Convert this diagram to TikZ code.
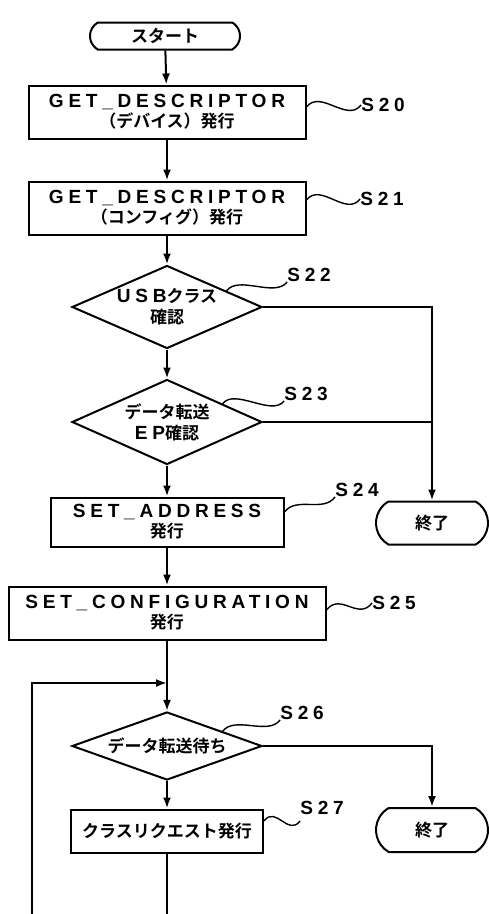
\documentclass[tikz,border=0pt]{standalone}
\usepackage{fontspec}
\usetikzlibrary{arrows.meta,calc,shapes.geometric,shapes.misc}
\newfontfamily\jpfont{Noto Sans CJK JP Bold}
\newfontfamily\enfont[LetterSpace=25,Scale=1.12]{Liberation Sans}
\newcommand{\en}[1]{{\enfont\bfseries #1}}
\tikzset{
  term/.style={draw, rounded rectangle, rounded rectangle arc length=120, line width=2pt, minimum width=150pt, minimum height=27pt, inner sep=0pt, font=\jpfont\fontsize{17}{20}\selectfont},
  process/.style={draw, line width=2pt, minimum height=53pt, align=center, inner sep=0pt, font=\jpfont\fontsize{17}{20}\selectfont},
  decision/.style={draw, diamond, aspect=2.3, line width=2pt, align=center, inner sep=0pt, font=\jpfont\fontsize{17}{21}\selectfont},
  steplabel/.style={inner sep=0pt, font=\enfont\bfseries\fontsize{17}{20}\selectfont},
  flow/.style={-{Latex[length=11pt,width=8pt]}, line width=2pt},
  link/.style={line width=2pt},
  wave/.style={line width=1.4pt}
}

\begin{document}
\begin{tikzpicture}[x=1pt,y=1pt]
  \useasboundingbox (0,0) rectangle (488,-914);

  \node[term] (start) at (165,-36) {スタート};
  \node[process, minimum width=277pt] (s20) at (167,-112) {\en{GET\_DESCRIPTOR}\\（デバイス）発行};
  \node[process, minimum width=277pt] (s21) at (167,-208) {\en{GET\_DESCRIPTOR}\\（コンフィグ）発行};
  \node[decision, minimum width=190pt, minimum height=83pt] (s22) at (167,-307) {\en{USB}クラス\\確認};
  \node[decision, minimum width=190pt, minimum height=85pt] (s23) at (167,-422) {データ転送\\\en{EP}確認};
  \node[process, minimum width=233pt, minimum height=49pt] (s24) at (167,-522) {\en{SET\_ADDRESS}\\発行};
  \node[process, minimum width=317pt] (s25) at (167,-613) {\en{SET\_CONFIGURATION}\\発行};
  \node[decision, minimum width=190pt, minimum height=63pt] (s26) at (167,-746) {データ転送待ち};
  \node[process, minimum width=192pt, minimum height=43pt] (s27) at (167,-831) {クラスリクエスト発行};
  \node[term, minimum width=112pt, minimum height=43pt] (end1) at (432,-523) {終了};
  \node[term, minimum width=112pt, minimum height=44pt] (end2) at (432,-830) {終了};

  \node[steplabel] (l20) at (383,-105) {S20};
  \node[steplabel] (l21) at (382,-199) {S21};
  \node[steplabel] (l22) at (309,-275) {S22};
  \node[steplabel] (l23) at (306,-394) {S23};
  \node[steplabel] (l24) at (357,-490) {S24};
  \node[steplabel] (l25) at (394,-603) {S25};
  \node[steplabel] (l26) at (302,-713) {S26};
  \node[steplabel] (l27) at (322,-808) {S27};

  \coordinate (join) at (167,-683);
  \coordinate (back) at (32,-914);
  \coordinate (tail) at (167,-914);

  \draw[flow] (start) -- (s20);
  \draw[flow] (s20) -- (s21);
  \draw[flow] (s21) -- (s22);
  \draw[flow] (s22) -- (s23);
  \draw[flow] (s23) -- (s24);
  \draw[flow] (s24) -- (s25);
  \draw[flow] (s25) -- (s26);
  \draw[flow] (s26) -- (s27);
  \draw[flow] (s22.east) -| (end1.north);
  \draw[link] (s23.east) -- (s23.east -| end1.north);
  \draw[flow] (s26.east) -| (end2.north);
  \draw[link] (s27) -- (tail);
  \draw[flow] (back) |- (join);

  \draw[wave] ([yshift=5pt]s20.east) .. controls +(14,18) and +(-14,-18) .. (l20.west);
  \draw[wave] ([yshift=8pt]s21.east) .. controls +(14,18) and +(-14,-18) .. (l21.west);
  \draw[wave] ($(s22.north)!0.62!(s22.east)$) .. controls +(12,16) and +(-12,-16) .. (l22.south west);
  \draw[wave] ($(s23.north)!0.58!(s23.east)$) .. controls +(12,16) and +(-12,-16) .. (l23.south west);
  \draw[wave] ([yshift=10pt]s24.east) .. controls +(12,16) and +(-12,-16) .. (l24.south west);
  \draw[wave] ([yshift=3pt]s25.east) .. controls +(14,18) and +(-14,-18) .. (l25.west);
  \draw[wave] ($(s26.north)!0.58!(s26.east)$) .. controls +(12,16) and +(-12,-16) .. (l26.south west);
  \draw[wave] ([yshift=10pt]s27.east) .. controls +(12,16) and +(-12,-16) .. ([yshift=-6pt]l27.south west);
\end{tikzpicture}
\end{document}
